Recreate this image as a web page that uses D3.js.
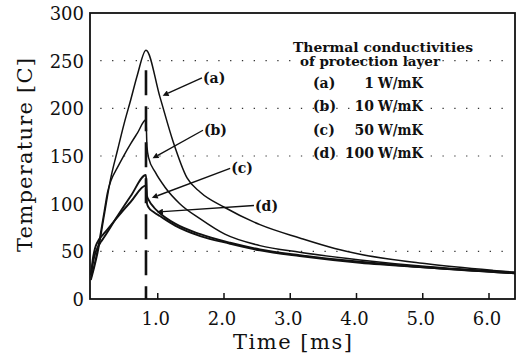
<!DOCTYPE html>
<html>
<head>
<meta charset="utf-8">
<script src="https://cdn.jsdelivr.net/npm/d3@7/dist/d3.min.js"></script>
<style>
  body { margin: 0; background: #fff; }
  svg { display: block; }
  text { font-family: "DejaVu Serif", serif; fill: #111; }
</style>
</head>
<body>
<svg id="chart"></svg>
<script>
// Data (time in ms, temperature in C)
var pulseEnd = 0.83;
var yTicks = [0, 50, 100, 150, 200, 250, 300];
var xTicks = [1, 2, 3, 4, 5, 6];
var gridValues = [50, 150, 200, 250];

var curveA = [[0, 20], [0.05, 33], [0.1, 48], [0.2, 88], [0.29, 124], [0.4, 156], [0.5, 184], [0.6, 209], [0.7, 235], [0.83, 261],
    [1.04, 212], [1.24, 165], [1.45, 127], [1.65, 112], [2.02, 96], [2.55, 78], [3.15, 64], [3.68, 53], [4.06, 47], [5.07, 37], [6.07, 30], [6.4, 28]];
var curveB = [[0, 22], [0.05, 36], [0.1, 52], [0.2, 92], [0.25, 112], [0.3, 124], [0.4, 138], [0.5, 151], [0.6, 163], [0.7, 174], [0.83, 188],
    [0.845, 160], [0.87, 148], [0.97, 133], [1.12, 117], [1.34, 100], [1.65, 84], [2.02, 68], [2.55, 56], [3.15, 49], [4.06, 41], [5.07, 34], [6.4, 28]];
var curveC = [[0, 25], [0.03, 38], [0.06, 47], [0.1, 54], [0.15, 60], [0.2, 65], [0.4, 87], [0.6, 108], [0.83, 130],
    [0.845, 108], [0.87, 104], [0.95, 96], [1.04, 90], [1.27, 79], [1.65, 68], [2.1, 59], [2.55, 52], [3.15, 46], [4.06, 39], [5.07, 33], [6.4, 27]];
var curveD = [[0, 25], [0.03, 43], [0.06, 53], [0.1, 60], [0.15, 65], [0.2, 69], [0.4, 86], [0.6, 102], [0.83, 119],
    [0.845, 100], [0.87, 96], [0.95, 91], [1.04, 87], [1.27, 77], [1.65, 66], [2.1, 58], [2.55, 51], [3.15, 45], [4.06, 38], [5.07, 33], [6.4, 27]];

var legendKeys = ["(a)", "(b)", "(c)", "(d)"];
var legendValues = ["1", "10", "50", "100"];

// annotation arrows: label, from [t, T], to [t, T]
var arrows = [
    {label: "(a)", from: [1.675, 232], to: [1.04, 212]},
    {label: "(b)", from: [1.69, 177], to: [0.89, 146]},
    {label: "(c)", from: [2.1, 137], to: [0.875, 105]},
    {label: "(d)", from: [2.46, 98], to: [0.95, 91]}
];

var width = 519, height = 356;
var svg = d3.select("#chart").attr("width", width).attr("height", height);

var x = d3.scaleLinear().domain([0, 6.4]).range([91, 515]);
var y = d3.scaleLinear().domain([0, 300]).range([299, 13]);

// dotted gridlines
svg.selectAll(".grid").data(gridValues).enter().append("line")
    .attr("x1", x(0.14)).attr("x2", x(6.25))
    .attr("y1", function (d) { return y(d); }).attr("y2", function (d) { return y(d); })
    .attr("stroke", "#333").attr("stroke-width", 1.2)
    .attr("stroke-dasharray", "1.3,10.5");

// frame
svg.append("rect")
    .attr("x", x(0) - 1).attr("y", y(300))
    .attr("width", x(6.4) - x(0) + 1).attr("height", y(0) - y(300))
    .attr("fill", "none").attr("stroke", "#111").attr("stroke-width", 1.8);

// x axis ticks (inward) and labels
var xAxis = d3.axisBottom(x).tickValues(xTicks).tickSize(-6).tickFormat(d3.format(".1f"));
var gx = svg.append("g").attr("transform", "translate(0," + y(0) + ")").call(xAxis);
gx.select(".domain").remove();
gx.selectAll(".tick line").attr("stroke", "#111").attr("stroke-width", 1.5);
gx.selectAll(".tick text").attr("dy", null).attr("y", 26).attr("x", -2)
    .style("font-size", "18px").style("font-family", "DejaVu Serif, serif").attr("fill", "#111");

// y axis labels
var yAxis = d3.axisLeft(y).tickValues(yTicks).tickSize(0).tickPadding(6);
var gy = svg.append("g").attr("transform", "translate(" + (x(0) - 1) + ",0)").call(yAxis);
gy.select(".domain").remove();
gy.selectAll(".tick text").attr("dy", "0.36em")
    .style("font-size", "18px").style("font-family", "DejaVu Serif, serif").attr("fill", "#111");

// axis titles
svg.append("text")
    .attr("transform", "translate(32," + 155 + ") rotate(-90)")
    .attr("text-anchor", "middle")
    .attr("textLength", 194).attr("lengthAdjust", "spacing")
    .style("font-size", "21px")
    .text("Temperature [C]");

svg.append("text")
    .attr("x", 233).attr("y", 349)
    .attr("textLength", 119).attr("lengthAdjust", "spacing")
    .style("font-size", "21px")
    .text("Time [ms]");

// curves
var line = d3.line()
    .x(function (d) { return x(d[0]); })
    .y(function (d) { return y(d[1]); })
    .curve(d3.curveMonotoneX);

var series = [curveA, curveB, curveC, curveD];
svg.selectAll(".curve").data(series).enter().append("path")
    .attr("d", line)
    .attr("fill", "none")
    .attr("stroke", "#111")
    .attr("stroke-width", function (d, i) { return i < 2 ? 1.5 : 1.9; });

// end of pulse marker
svg.append("line")
    .attr("x1", x(pulseEnd)).attr("x2", x(pulseEnd))
    .attr("y1", y(240)).attr("y2", y(0))
    .attr("stroke", "#111").attr("stroke-width", 2.6)
    .attr("stroke-dasharray", "25,11");

// arrows
svg.append("defs").append("marker")
    .attr("id", "head")
    .attr("viewBox", "0 0 10 10")
    .attr("refX", 0).attr("refY", 5)
    .attr("markerWidth", 9).attr("markerHeight", 6)
    .attr("markerUnits", "userSpaceOnUse")
    .attr("orient", "auto")
    .append("path").attr("d", "M0,0 L10,5 L0,10 z").attr("fill", "#111");

svg.selectAll(".arrow").data(arrows).enter().append("line")
    .attr("x1", function (d) { return x(d.from[0]); })
    .attr("y1", function (d) { return y(d.from[1]); })
    .attr("x2", function (d) {
        var dx = x(d.to[0]) - x(d.from[0]), dy = y(d.to[1]) - y(d.from[1]);
        var len = Math.sqrt(dx * dx + dy * dy);
        return x(d.to[0]) - 9 * dx / len;
    })
    .attr("y2", function (d) {
        var dx = x(d.to[0]) - x(d.from[0]), dy = y(d.to[1]) - y(d.from[1]);
        var len = Math.sqrt(dx * dx + dy * dy);
        return y(d.to[1]) - 9 * dy / len;
    })
    .attr("stroke", "#111").attr("stroke-width", 1.4)
    .attr("marker-end", "url(#head)");

svg.selectAll(".arrowLabel").data(arrows).enter().append("text")
    .attr("x", function (d) { return x(d.from[0]) + 1; })
    .attr("y", function (d) { return y(d.from[1]) + 5; })
    .style("font-size", "14px").style("font-weight", "bold")
    .text(function (d) { return d.label; });

// legend
svg.append("text").attr("x", 293).attr("y", 52)
    .attr("textLength", 180).attr("lengthAdjust", "spacingAndGlyphs")
    .style("font-size", "12.5px").style("font-weight", "bold")
    .text("Thermal conductivities");
svg.append("text").attr("x", 300).attr("y", 66)
    .attr("textLength", 140).attr("lengthAdjust", "spacingAndGlyphs")
    .style("font-size", "12.5px").style("font-weight", "bold")
    .text("of protection layer");

var rows = svg.selectAll(".legendRow").data(legendKeys).enter().append("g")
    .attr("transform", function (d, i) { return "translate(0," + (88 + i * 23.3) + ")"; });
rows.append("text").attr("x", 313)
    .style("font-size", "14px").style("font-weight", "bold")
    .text(function (d) { return d; });
rows.append("text").attr("x", 374).attr("text-anchor", "end")
    .style("font-size", "14px").style("font-weight", "bold")
    .text(function (d, i) { return legendValues[i]; });
rows.append("text").attr("x", 378)
    .attr("textLength", 45).attr("lengthAdjust", "spacingAndGlyphs")
    .style("font-size", "14px").style("font-weight", "bold")
    .text("W/mK");
</script>
</body>
</html>
